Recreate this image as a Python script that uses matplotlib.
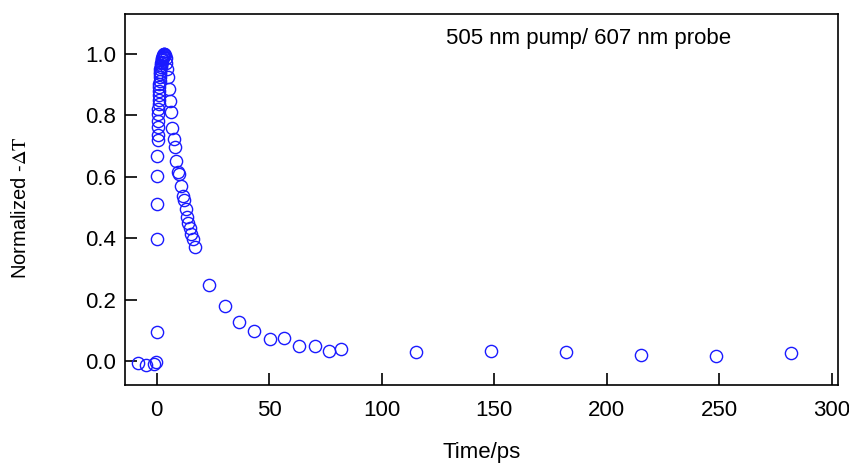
import matplotlib
matplotlib.use('Agg')
import matplotlib.pyplot as plt

plt.rcParams['font.family'] = ['Liberation Sans', 'DejaVu Sans']
plt.rcParams['mathtext.fontset'] = 'stix'

# pump-probe trace
time_ps = [-8.4, -4.6, -1.2, -0.2,
           0.1, 0.15, 0.2, 0.25, 0.3, 0.35,
           0.4, 0.48, 0.55, 0.63, 0.7, 0.78, 0.85, 0.93, 1.0, 1.08, 1.15, 1.23, 1.3,
           1.42, 1.54, 1.66, 1.78, 1.9, 2.02, 2.14, 2.26, 2.38, 2.5, 2.62, 2.74, 2.86, 3.0,
           3.2, 3.4, 3.6, 3.9, 4.2, 4.6,
           5.0, 5.5, 5.9, 6.2, 6.8, 7.6, 8.0, 8.7, 9.5, 9.9, 10.8, 11.7, 12.1, 12.9,
           13.5, 14.1, 14.7, 15.3, 15.9, 16.8,
           23.4, 30.2, 36.7, 43.4, 50.1, 56.7, 63.4, 70.1, 76.7, 81.9,
           115.4, 148.4, 181.8, 215.0, 248.4, 281.8]
signal = [-0.005, -0.013, -0.01, -0.003,
          0.093, 0.397, 0.512, 0.603, 0.669, 0.72,
          0.737, 0.761, 0.783, 0.805, 0.821, 0.837, 0.851, 0.865, 0.878, 0.891, 0.902, 0.913, 0.924,
          0.933, 0.942, 0.95, 0.957, 0.964, 0.97, 0.975, 0.98, 0.984, 0.988, 0.991, 0.994, 0.996, 0.998,
          1.0, 1.0, 0.995, 0.985, 0.97, 0.95,
          0.926, 0.885, 0.845, 0.81, 0.758, 0.723, 0.698, 0.652, 0.615, 0.608, 0.571, 0.538, 0.524, 0.495,
          0.468, 0.448, 0.432, 0.414, 0.396, 0.372,
          0.248, 0.18, 0.127, 0.097, 0.072, 0.075, 0.049, 0.049, 0.034, 0.039,
          0.028, 0.033, 0.029, 0.021, 0.017, 0.027]

x_ticks = [0, 50, 100, 150, 200, 250, 300]
y_ticks = [0.0, 0.2, 0.4, 0.6, 0.8, 1.0]

fig = plt.figure(figsize=(8.49, 4.65), dpi=100)
ax = fig.add_axes([0.147, 0.172, 0.840, 0.798])

ax.plot(time_ps, signal, linestyle='none', marker='o', markersize=8.8,
        markerfacecolor='none', markeredgecolor='#1a1aff', markeredgewidth=1.0)

ax.set_xlim(-14.2, 302.7)
ax.set_ylim(-0.078, 1.13)
ax.set_xticks(x_ticks)
ax.set_yticks(y_ticks)
ax.set_yticklabels([f'{v:.1f}' for v in y_ticks])
ax.tick_params(direction='in', length=8.6, width=1.2, labelsize=16)
ax.tick_params(axis='x', pad=11)
ax.tick_params(axis='y', pad=6)
for s in ax.spines.values():
    s.set_linewidth(1.2)

ax.set_xlabel('Time/ps', fontsize=16, va='center')
ax.xaxis.set_label_coords(0.5, -0.183)
ax.set_ylabel(r'Normalized -$\Delta\mathrm{T}$', fontsize=14.5)
ax.yaxis.set_label_coords(-0.133, 0.478)
ax.text(0.65, 0.935, '505 nm pump/ 607 nm probe', transform=ax.transAxes,
        ha='center', va='center', fontsize=16)

fig.savefig('out.png', dpi=100)
